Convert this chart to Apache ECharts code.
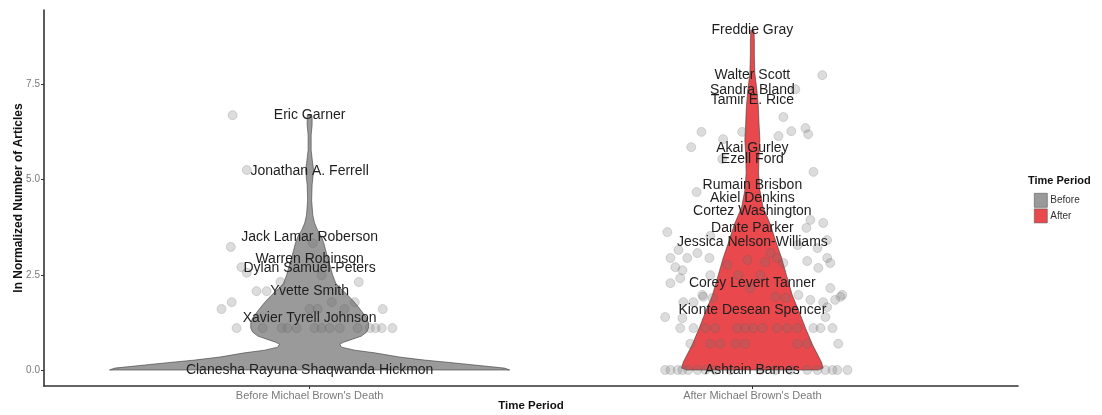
<!DOCTYPE html>
<html>
<head>
<meta charset="utf-8">
<script src="https://cdn.jsdelivr.net/npm/echarts@6/dist/echarts.min.js"></script>
<style>
  html, body { margin: 0; padding: 0; background: #fff; }
  #chart { width: 1102px; height: 415px; }
</style>
</head>
<body>
<div id="chart"></div>
<script>
// Categories and axis ticks
const categories = ["Before Michael Brown's Death", "After Michael Brown's Death"];
const groupNames = ['Before', 'After'];
const yTicks = [0, 2.5, 5, 7.5];

// Violin outlines: value on the y axis and half-width (in category units) at that value
const beforeViolinY = [0, 0.05, 0.13, 0.21, 0.26, 0.34, 0.45, 0.52, 0.60, 0.68, 0.73, 0.81, 0.89, 1.0, 1.10, 1.23, 1.36, 1.55, 1.71, 1.86, 2.02, 2.18, 2.28, 2.49, 2.70, 2.94, 3.15, 3.33, 3.49, 3.67, 3.86, 4.07, 4.46, 4.86, 5.12, 5.25, 5.43, 5.77, 6.17, 6.43, 6.61, 6.69];
const beforeViolinHalf = [0.452, 0.440, 0.373, 0.305, 0.260, 0.203, 0.147, 0.102, 0.072, 0.068, 0.077, 0.097, 0.117, 0.129, 0.133, 0.133, 0.129, 0.117, 0.106, 0.095, 0.081, 0.066, 0.059, 0.052, 0.047, 0.041, 0.036, 0.032, 0.027, 0.018, 0.011, 0.007, 0.0045, 0.0056, 0.0079, 0.009, 0.0068, 0.0034, 0.0034, 0.0056, 0.0056, 0.005];

const afterViolinY = [0, 0.05, 0.21, 0.66, 1.10, 1.52, 1.97, 2.49, 2.94, 3.41, 3.81, 4.28, 4.72, 5.17, 5.64, 6.04, 6.48, 6.90, 7.35, 7.79, 8.27, 8.66, 8.92];
const afterViolinHalf = [0.149, 0.160, 0.156, 0.136, 0.120, 0.106, 0.090, 0.077, 0.066, 0.052, 0.041, 0.024, 0.017, 0.014, 0.015, 0.017, 0.015, 0.0136, 0.0102, 0.0056, 0.0045, 0.0045, 0.0034];

// Individual cases: [horizontal jitter in category units, ln normalized number of articles]
const beforePoints = [
  [-0.174, 6.69], [-0.142, 5.25], [-0.178, 3.23], [0.007, 3.33], [-0.154, 2.70], [-0.142, 2.55],
  [0.027, 2.49], [-0.066, 2.31], [0.111, 2.31], [-0.120, 2.07], [-0.097, 2.07], [0.050, 1.78],
  [0.102, 1.78], [-0.176, 1.78], [-0.199, 1.60], [0.000, 1.60], [0.018, 1.60], [0.079, 1.60],
  [0.165, 1.60],
  [-0.165, 1.10], [-0.106, 1.10], [-0.063, 1.10], [-0.050, 1.10], [-0.029, 1.10], [0.011, 1.10],
  [0.027, 1.10], [0.045, 1.10], [0.068, 1.10], [0.108, 1.10], [0.136, 1.10], [0.149, 1.10],
  [0.163, 1.10], [0.187, 1.10]
];

const afterPoints = [
  [0.158, 7.74], [0.097, 7.37], [0.070, 6.64], [-0.115, 6.25], [-0.023, 6.25], [0.088, 6.27],
  [0.120, 6.35], [0.126, 6.19], [0.059, 6.14], [-0.066, 6.06], [-0.138, 5.85], [-0.068, 5.54],
  [0.138, 5.20], [-0.126, 4.67], [0.131, 3.94], [0.160, 3.86], [0.122, 3.73], [-0.192, 3.62],
  [-0.095, 3.52],
  [-0.167, 3.15], [-0.185, 2.94], [-0.147, 2.94], [-0.124, 3.07], [-0.097, 2.94], [-0.174, 2.70],
  [-0.158, 2.62], [-0.163, 2.41], [-0.185, 2.28], [-0.056, 2.76], [-0.011, 2.89], [0.029, 2.83],
  [0.041, 3.07], [0.056, 2.94], [0.070, 2.81], [0.169, 2.94], [0.176, 2.81], [0.149, 2.68],
  [0.124, 2.86], [0.147, 3.20], [0.169, 3.41], [0.102, 3.28], [-0.032, 2.49], [0.018, 2.49],
  [-0.095, 2.49], [0.176, 2.15], [-0.113, 1.97], [-0.090, 1.89], [0.203, 1.97], [-0.156, 1.78],
  [-0.005, 2.15], [0.052, 1.92], [0.104, 1.97], [0.131, 1.84], [0.160, 1.78], [-0.133, 1.78],
  [-0.111, 1.92], [0.075, 1.89], [0.187, 1.84], [-0.197, 1.39], [-0.158, 1.36], [0.165, 1.39],
  [0.169, 1.65], [0.199, 1.92],
  [-0.163, 1.10], [-0.133, 1.10], [-0.106, 1.10], [-0.084, 1.10], [-0.034, 1.10], [-0.016, 1.10],
  [0.002, 1.10], [0.023, 1.10], [0.056, 1.10], [0.079, 1.10], [0.102, 1.10], [0.138, 1.10],
  [0.154, 1.10], [0.181, 1.10],
  [-0.140, 0.69], [-0.095, 0.69], [-0.072, 0.69], [-0.038, 0.69], [-0.016, 0.69], [0.102, 0.69],
  [0.124, 0.69], [0.194, 0.69],
  [-0.197, 0], [-0.185, 0], [-0.169, 0], [-0.158, 0], [-0.145, 0], [-0.124, 0], [-0.106, 0],
  [-0.084, 0], [-0.050, 0], [0.018, 0], [0.052, 0], [0.086, 0], [0.124, 0], [0.147, 0],
  [0.165, 0], [0.181, 0], [0.192, 0], [0.215, 0]
];

// Named cases
const beforeNames = ['Eric Garner', 'Jonathan A. Ferrell', 'Jack Lamar Roberson', 'Warren Robinson', 'Dylan Samuel-Peters', 'Yvette Smith', 'Xavier Tyrell Johnson', 'Clanesha Rayuna Shaqwanda Hickmon'];
const beforeNameValues = [6.69, 5.22, 3.49, 2.91, 2.68, 2.07, 1.36, 0];
const afterNames = ['Freddie Gray', 'Walter Scott', 'Sandra Bland', 'Tamir E. Rice', 'Akai Gurley', 'Ezell Ford', 'Rumain Brisbon', 'Akiel Denkins', 'Cortez Washington', 'Dante Parker', 'Jessica Nelson-Williams', 'Corey Levert Tanner', 'Kionte Desean Spencer', 'Ashtain Barnes'];
const afterNameValues = [8.92, 7.74, 7.35, 7.09, 5.83, 5.54, 4.86, 4.51, 4.17, 3.73, 3.36, 2.28, 1.57, 0];

const FONT = '"Liberation Sans", Arial, Helvetica, sans-serif';
const violinColors = ['#9a9a9a', '#e9494d'];

function violinSeries(name, catPos, ys, halves, color) {
  return {
    type: 'custom',
    name: name,
    data: [[catPos, ys[ys.length - 1]]],
    itemStyle: { color: color },
    z: 2,
    renderItem: function (params, api) {
      const pts = [];
      for (let i = 0; i < ys.length; i++) pts.push(api.coord([catPos + halves[i], ys[i]]));
      for (let i = ys.length - 1; i >= 0; i--) pts.push(api.coord([catPos - halves[i], ys[i]]));
      return {
        type: 'polygon',
        shape: { points: pts },
        style: { fill: color, stroke: '#3a3a3a', lineWidth: 0.6 }
      };
    }
  };
}

function pointSeries(catPos, pts) {
  return {
    type: 'scatter',
    data: pts.map(p => [catPos + p[0], p[1]]),
    symbolSize: 9,
    itemStyle: { color: 'rgba(110,110,110,0.30)', borderColor: 'rgba(90,90,90,0.32)', borderWidth: 0.8 },
    z: 3,
    silent: true
  };
}

function labelSeries(catPos, names, values) {
  return {
    type: 'custom',
    data: values.map(v => [catPos, v]),
    z: 4,
    silent: true,
    renderItem: function (params, api) {
      const p = api.coord([api.value(0), api.value(1)]);
      return {
        type: 'text',
        x: p[0],
        y: p[1],
        style: {
          text: names[params.dataIndex],
          textAlign: 'center',
          textVerticalAlign: 'middle',
          fontSize: 14,
          fontFamily: FONT,
          fill: '#1e1e1e'
        }
      };
    }
  };
}

const chart = echarts.init(document.getElementById('chart'), null, { renderer: 'canvas' });
chart.setOption({
  animation: false,
  backgroundColor: '#ffffff',
  textStyle: { fontFamily: FONT },
  grid: { left: 44, right: 84, top: 10, bottom: 29, containLabel: false, outerBoundsMode: 'none' },
  legend: {
    data: [{ name: groupNames[0], icon: 'rect' }, { name: groupNames[1], icon: 'rect' }],
    orient: 'vertical',
    left: 1029,
    top: 188,
    itemWidth: 13,
    itemHeight: 14,
    itemGap: 1,
    selectedMode: false,
    itemStyle: { borderColor: '#555', borderWidth: 0.6 },
    textStyle: { fontSize: 10, color: '#333', fontFamily: FONT, padding: [0, 0, 0, -2] }
  },
  title: {
    text: 'Time Period',
    left: 1023,
    top: 170,
    textStyle: { fontSize: 11, fontWeight: 'bold', color: '#111', fontFamily: FONT }
  },
  xAxis: {
    type: 'value',
    min: 0.4,
    max: 2.6,
    name: 'Time Period',
    nameLocation: 'middle',
    nameGap: 14,
    nameMoveOverlap: false,
    nameTextStyle: { fontSize: 11.5, fontWeight: 'bold', color: '#111', fontFamily: FONT },
    axisLine: { show: true, onZero: false, lineStyle: { color: '#333', width: 1.6 } },
    axisTick: { show: true, customValues: [1, 2], length: 3, lineStyle: { color: '#333', width: 1 } },
    axisLabel: {
      customValues: [1, 2],
      formatter: v => categories[Math.round(v) - 1] || '',
      fontSize: 11,
      color: '#7a7a7a',
      margin: 4,
      fontFamily: FONT
    },
    splitLine: { show: false }
  },
  yAxis: {
    type: 'value',
    min: -0.42,
    max: 9.45,
    name: 'ln Normalized Number of Articles',
    nameLocation: 'middle',
    nameGap: 19,
    nameMoveOverlap: false,
    nameTextStyle: { fontSize: 12, fontWeight: 'bold', color: '#111', fontFamily: FONT },
    axisLine: { show: true, onZero: false, lineStyle: { color: '#333', width: 1.6 } },
    axisTick: { show: true, customValues: yTicks, length: 3, lineStyle: { color: '#333', width: 1 } },
    axisLabel: {
      customValues: yTicks,
      formatter: v => Number(v).toFixed(1),
      fontSize: 10,
      color: '#7a7a7a',
      margin: 4,
      fontFamily: FONT
    },
    splitLine: { show: false }
  },
  series: [
    violinSeries(groupNames[0], 1, beforeViolinY, beforeViolinHalf, violinColors[0]),
    violinSeries(groupNames[1], 2, afterViolinY, afterViolinHalf, violinColors[1]),
    pointSeries(1, beforePoints),
    pointSeries(2, afterPoints),
    labelSeries(1, beforeNames, beforeNameValues),
    labelSeries(2, afterNames, afterNameValues)
  ]
});
</script>
</body>
</html>
